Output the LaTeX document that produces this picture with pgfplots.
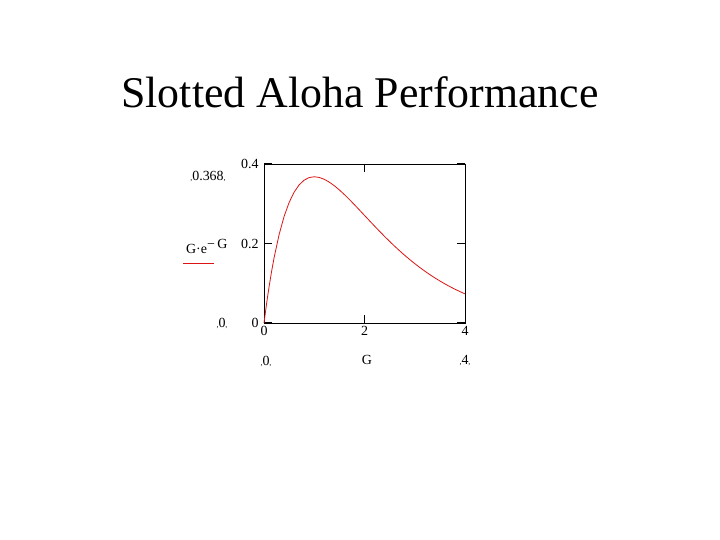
\documentclass[border=0pt]{standalone}
\usepackage{fontspec}
\setmainfont{Liberation Serif}
\usepackage{pgfplots}
\pgfplotsset{compat=1.18}
\definecolor{curve}{RGB}{220,20,20}
\begin{document}
\begin{tikzpicture}[x=1bp,y=1bp]
\fill[white] (0,0) rectangle (720,540);
\path[use as bounding box] (0,0) rectangle (720,540);
\node[font=\fontsize{44}{44}\selectfont, anchor=base] at (360,432) {Slotted Aloha Performance};
\begin{axis}[
  at={(264bp,217bp)}, anchor=south west,
  scale only axis, width=201bp, height=159bp,
  xmin=0, xmax=4, ymin=0, ymax=0.4,
  xtick={0,2,4}, ytick={0,0.2,0.4},
  tick align=inside,
  major tick length=8bp,
  tick style={black, line width=1pt},
  axis line style={black, line width=0.8pt},
  ticklabel style={font=\fontsize{14}{14}\selectfont},
  /pgf/number format/assume math mode=true,
  xticklabel style={yshift=0bp},
  yticklabel style={xshift=-2bp},
  clip=false,
]
\addplot[curve, line width=0.8pt] coordinates {
(0,0) (0.05,0.047561) (0.1,0.090484) (0.15,0.129106) (0.2,0.163746) (0.3,0.222245)
(0.4,0.268128) (0.5,0.303265) (0.6,0.329287) (0.7,0.347610) (0.8,0.359463)
(0.9,0.365913) (1.0,0.367879) (1.1,0.366158) (1.2,0.361433) (1.3,0.354291)
(1.4,0.345236) (1.5,0.334695) (1.6,0.323034) (1.7,0.310562) (1.8,0.297538)
(1.9,0.284180) (2.0,0.270671) (2.1,0.257158) (2.2,0.243767) (2.3,0.230595)
(2.4,0.217723) (2.5,0.205212) (2.6,0.193111) (2.7,0.181455) (2.8,0.170268)
(2.9,0.159567) (3.0,0.149361) (3.1,0.139652) (3.2,0.130438) (3.3,0.121714)
(3.4,0.113468) (3.5,0.105691) (3.6,0.098365) (3.7,0.091477) (3.8,0.085009)
(3.9,0.078943) (4.0,0.073263)
};
\end{axis}
\begin{scope}[every node/.style={font=\fontsize{14}{14}\selectfont, inner sep=0pt}]
\node at (208,364) {{\footnotesize,}0.368{\footnotesize,}};
\node[anchor=base] at (207,286) {G·e\textsuperscript{\fontsize{14}{14}\selectfont−\,G}};
\draw[curve, line width=0.7pt] (183,277) -- (214,277);
\node at (222,217) {{\footnotesize,}0{\footnotesize,}};
\node at (266,179) {{\footnotesize,}0{\footnotesize,}};
\node at (367,180) {G};
\node at (465,179) {{\footnotesize,}4{\footnotesize,}};
\end{scope}
\end{tikzpicture}
\end{document}
